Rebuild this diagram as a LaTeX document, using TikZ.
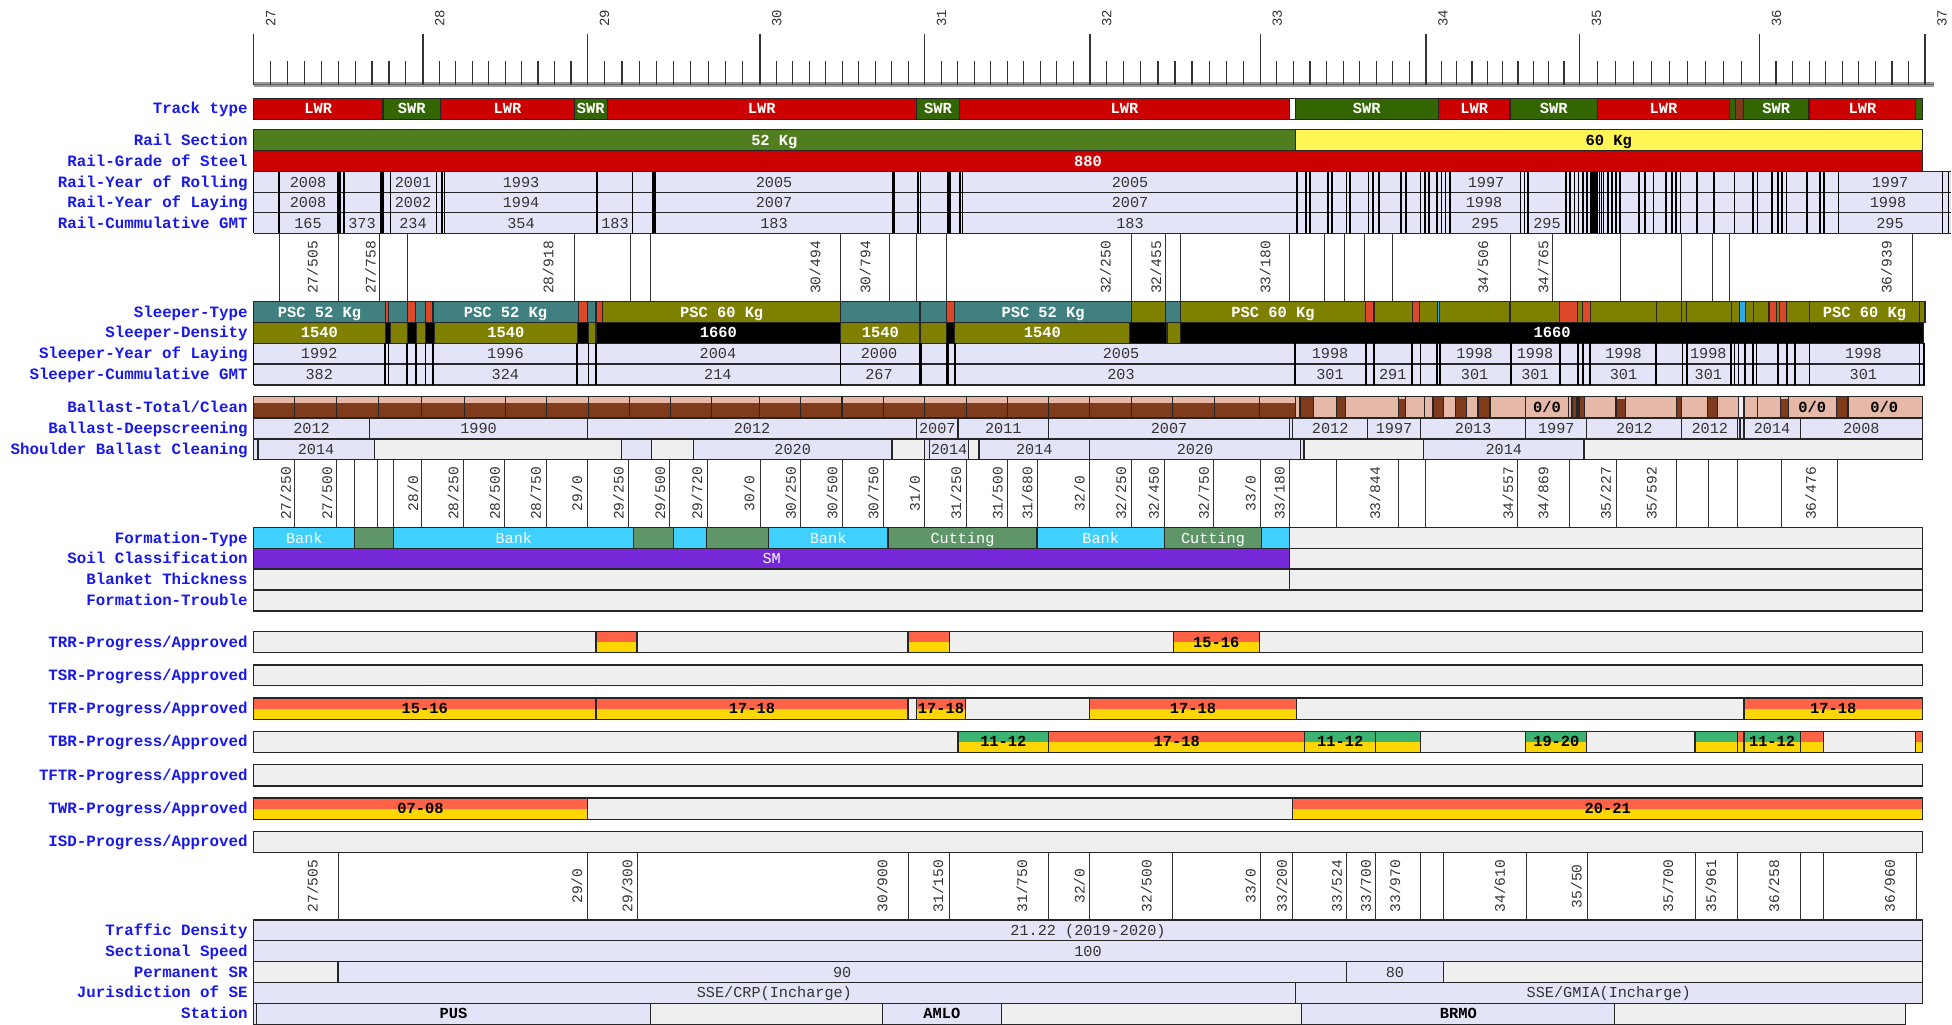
\documentclass[tikz,border=0pt]{standalone}
\usepackage{fontspec}
\setmainfont{Liberation Mono}
\definecolor{lblblue}{RGB}{25,25,235}
\definecolor{lwr}{RGB}{204,0,0}
\definecolor{swr}{RGB}{51,102,0}
\definecolor{rs52}{RGB}{80,125,30}
\definecolor{rs60}{RGB}{255,245,85}
\definecolor{lav}{RGB}{228,228,248}
\definecolor{gry}{RGB}{239,239,239}
\definecolor{slpteal}{RGB}{64,128,128}
\definecolor{slpolive}{RGB}{128,128,0}
\definecolor{slpred}{RGB}{220,72,40}
\definecolor{slpblue}{RGB}{40,170,235}
\definecolor{bpink}{RGB}{230,184,168}
\definecolor{bbrown}{RGB}{128,58,28}
\definecolor{fbank}{RGB}{64,208,255}
\definecolor{fcut}{RGB}{94,150,104}
\definecolor{soilsm}{RGB}{117,40,215}
\definecolor{ptop}{RGB}{255,99,71}
\definecolor{pgold}{RGB}{255,215,0}
\definecolor{pgreen}{RGB}{60,179,113}
\newcommand{\lblfont}{\fontsize{15.8}{16}\selectfont\bfseries}
\newcommand{\valfont}{\fontsize{15.2}{16}\selectfont}
\newcommand{\barfont}{\fontsize{15.4}{16}\selectfont\bfseries}
\newcommand{\chfont}{\fontsize{14.6}{15}\selectfont}
\newcommand{\kmfont}{\fontsize{14}{14}\selectfont}
\newcommand{\setrow}[2]{\def\rowtop{#1}\def\rowbot{#2}}
\newcommand{\cell}[5][valtxt]{%
  \filldraw[cellline,fill=#2] (#3,\rowtop) rectangle (#4,\rowbot);
  \node[#1] at ({(#3+#4)/2},{(\rowtop+\rowbot)/2}) {#5};}
\newcommand{\prog}[4][ptop]{%
  \fill[#1] (#2,\rowtop) rectangle (#3,{(\rowtop+\rowbot)/2});
  \fill[pgold] (#2,{(\rowtop+\rowbot)/2}) rectangle (#3,\rowbot);
  \draw[cellline] (#2,\rowtop) rectangle (#3,\rowbot);
  \node[progtxt] at ({(#2+#3)/2},{(\rowtop+\rowbot)/2}) {#4};}
\newcommand{\bal}[3]{%
  \fill[bpink] (#1,396.7) rectangle (#2,417.3);
  \fill[bbrown] (#1,{396.7+#3}) rectangle (#2,417.3);
  \draw[cellline] (#1,396.7) rectangle (#2,417.3);}

\begin{document}
\begin{tikzpicture}[x=1pt,y=-1pt,
  cellline/.style={draw=black!85,line width=1.1pt},
  railline/.style={draw=black,line width=1.7pt},
  zoneline/.style={draw=black!80,line width=0.9pt},
  majortick/.style={draw=black!80,line width=1.6pt},
  minortick/.style={draw=black!80,line width=1.2pt},
  rowlbl/.style={anchor=east,inner sep=0pt,text=lblblue,font=\lblfont,text height=10pt,text depth=0pt},
  valtxt/.style={inner sep=0pt,text=black!80,font=\valfont,text height=10pt,text depth=0pt},
  bartxt/.style={inner sep=0pt,text=white,font=\barfont,text height=10pt,text depth=0pt},
  wtxt/.style={inner sep=0pt,text=white,font=\valfont,text height=10pt,text depth=0pt},
  darktxt/.style={inner sep=0pt,text=black,font=\barfont,text height=10pt,text depth=0pt},
  progtxt/.style={inner sep=0pt,text=black,font=\barfont,text height=10pt,text depth=0pt},
  chlbl/.style={rotate=90,inner sep=0pt,text=black!80,font=\chfont},
  kmlbl/.style={rotate=90,anchor=west,inner sep=0pt,text=black!80,font=\kmfont}]
\useasboundingbox (0,0) rectangle (1952,1025);

\fill[black!40] (253.6,82) rectangle (1934,87);
\draw[black!60,line width=1pt] (253.6,84.5) -- (1934,84.5);
\foreach \a/\b [count=\k from 27] in {253.6/422.8,422.8/587.5,587.5/759.8,759.8/924.6,924.6/1089.7,1089.7/1260.3,1260.3/1426,1426/1579.4,1579.4/1759.5,1759.5/1925}{
  \draw[majortick] (\a,34) -- (\a,85);
  \node[kmlbl] at (\a+17,27) {\k};
  \foreach \i in {1,...,9} \draw[minortick] ({\a+\i*(\b-\a)/10},61) -- ({\a+\i*(\b-\a)/10},85);
}
\draw[majortick] (1925,34) -- (1925,85);
\node[kmlbl] at (1942,27) {37};

\node[rowlbl] (trk) at (247.8,108.8) {Track type};
\node[rowlbl] (rsec) at (247.8,140) {Rail Section};
\node[rowlbl] (rgrd) at (247.8,161.2) {Rail-Grade of Steel};
\node[rowlbl] (rrol) at (247.8,182) {Rail-Year of Rolling};
\node[rowlbl] (rlay) at (247.8,202.5) {Rail-Year of Laying};
\node[rowlbl] (rgmt) at (247.8,223) {Rail-Cummulative GMT};
\node[rowlbl] (styp) at (247.8,312) {Sleeper-Type};
\node[rowlbl] (sden) at (247.8,332.8) {Sleeper-Density};
\node[rowlbl] (slay) at (247.8,353.7) {Sleeper-Year of Laying};
\node[rowlbl] (sgmt) at (247.8,374.5) {Sleeper-Cummulative GMT};
\node[rowlbl] (btot) at (247.8,407) {Ballast-Total/Clean};
\node[rowlbl] (bdsc) at (247.8,428.3) {Ballast-Deepscreening};
\node[rowlbl] (bsho) at (247.8,449.2) {Shoulder Ballast Cleaning};
\node[rowlbl] (ftyp) at (247.8,538) {Formation-Type};
\node[rowlbl] (fsoil) at (247.8,558.7) {Soil Classification};
\node[rowlbl] (fblk) at (247.8,579.5) {Blanket Thickness};
\node[rowlbl] (ftrb) at (247.8,600.5) {Formation-Trouble};
\node[rowlbl] (trr) at (247.8,642) {TRR-Progress/Approved};
\node[rowlbl] (tsr) at (247.8,675.3) {TSR-Progress/Approved};
\node[rowlbl] (tfr) at (247.8,708.7) {TFR-Progress/Approved};
\node[rowlbl] (tbr) at (247.8,741.8) {TBR-Progress/Approved};
\node[rowlbl] (tftr) at (247.8,775.3) {TFTR-Progress/Approved};
\node[rowlbl] (twr) at (247.8,808.7) {TWR-Progress/Approved};
\node[rowlbl] (isd) at (247.8,841.8) {ISD-Progress/Approved};
\node[rowlbl] (tden) at (247.8,930.3) {Traffic Density};
\node[rowlbl] (sspd) at (247.8,951.2) {Sectional Speed};
\node[rowlbl] (psr) at (247.8,972) {Permanent SR};
\node[rowlbl] (jur) at (247.8,992.8) {Jurisdiction of SE};
\node[rowlbl] (stn) at (247.8,1013.8) {Station};

\setrow{98.3}{119.3}
\cell[bartxt]{lwr}{253.6}{383}{LWR}
\cell[bartxt]{swr}{383}{440.6}{SWR}
\cell[bartxt]{lwr}{440.6}{574.6}{LWR}
\cell[bartxt]{swr}{574.6}{607.1}{SWR}
\cell[bartxt]{lwr}{607.1}{916.5}{LWR}
\cell[bartxt]{swr}{916.5}{959.4}{SWR}
\cell[bartxt]{lwr}{959.4}{1289.7}{LWR}
\cell{white}{1289.7}{1295.1}{}
\cell[bartxt]{swr}{1295.1}{1438.5}{SWR}
\cell[bartxt]{lwr}{1438.5}{1510}{LWR}
\cell[bartxt]{swr}{1510}{1597.3}{SWR}
\cell[bartxt]{lwr}{1597.3}{1729.5}{LWR}
\cell{swr}{1729.5}{1735.8}{}
\cell{bbrown}{1735.8}{1743.6}{}
\cell[bartxt]{swr}{1743.6}{1809}{SWR}
\cell[bartxt]{lwr}{1809}{1915.8}{LWR}
\cell{swr}{1915.8}{1922.5}{}

\setrow{129.3}{150.7}
\cell[bartxt]{rs52}{253.6}{1295.1}{52 Kg}
\cell[darktxt]{rs60}{1295.1}{1922.5}{60 Kg}
\setrow{150.7}{171.7}
\cell[bartxt]{lwr}{253.6}{1922.5}{880}

\fill[lav] (253.6,171.7) rectangle (1951,233.3);
\foreach \y in {171.7,192.3,212.7,233.3} \draw[cellline] (253.6,\y) -- (1951,\y);
\foreach \x in {253.6,279,338,340.2,343.8,380.8,383,390.6,436.6,442,444.6,597.3,632.6,652.7,655,893.3,894.6,918.3,920.5,947.8,950,960.3,962.5,1297.3,1306.3,1309.8,1327.7,1332,1346.4,1349.9,1368.6,1372.8,1379,1401,1406,1420.6,1424.7,1428.9,1437.2,1441.4,1445.5,1449.7,1520.4,1524.5,1527.9,1566.1,1570.3,1574.4,1578.6,1582.7,1586.9,1591.1,1593.1,1595.2,1597.3,1599.4,1601.5,1603.5,1607.7,1611.9,1616,1620.2,1638.9,1645.1,1653.4,1665.9,1672.1,1676.3,1680.5,1697.1,1713.7,1734.5,1753.2,1757.4,1771.9,1778.2,1782.3,1786.5,1807.3,1819.8,1823.9,1838.5,1942.4,1948.6}
  \draw[railline] (\x,171.7) -- (\x,233.3);
\foreach \x/\t in {308/2008,413/2001,521/1993,774/2005,1130/2005,1486/1997,1890/1997} \node[valtxt] at (\x,182) {\t};
\foreach \x/\t in {308/2008,413/2002,521/1994,774/2007,1130/2007,1484/1998,1888/1998} \node[valtxt] at (\x,202.5) {\t};
\foreach \x/\t in {308/165,362/373,413/234,521/354,615/183,774/183,1130/183,1485/295,1547/295,1890/295} \node[valtxt] at (\x,223) {\t};

\foreach \x in {279,338,379.5,407.6,574.6,630.8,650.4,840.6,889.7,916.5,946,1131.3,1165.6,1180.4,1289.7,1324.1,1344.2,1364.4,1392.3,1510,1552.8,1620.2,1681.3,1712.9,1729.1,1912.5}
  \draw[zoneline] (\x,233.3) -- (\x,301.7);
\foreach \x/\k/\m in {312.5/27/505,370.5/27/758,548.2/28/918,815.2/30/494,865.2/30/794,1105.4/32/250,1155.8/32/455,1265.2/33/180,1483/34/506,1543.2/34/765,1886.3/36/939}
  \node[chlbl] at (\x,267.5) {\k/\m};

\setrow{301.7}{322.3}
\cell[bartxt]{slpteal}{253.6}{385.3}{PSC 52 Kg}
\cell{slpred}{385.3}{388.4}{}
\cell{slpteal}{388.4}{407.1}{}
\cell{slpred}{407.1}{415.2}{}
\cell{slpteal}{415.2}{425.4}{}
\cell{slpred}{425.4}{433}{}
\cell[bartxt]{slpteal}{433}{578.1}{PSC 52 Kg}
\cell{slpred}{578.1}{587.5}{}
\cell{slpteal}{587.5}{596}{}
\cell{slpred}{596}{602.7}{}
\cell[bartxt]{slpolive}{602.7}{840.6}{PSC 60 Kg}
\cell{slpteal}{840.6}{920}{}
\cell{slpteal}{920}{946.9}{}
\cell{slpred}{946.9}{954.9}{}
\cell[bartxt]{slpteal}{954.9}{1131.3}{PSC 52 Kg}
\cell{slpolive}{1131.3}{1165.6}{}
\cell{slpteal}{1165.6}{1180.4}{}
\cell[bartxt]{slpolive}{1180.4}{1365.7}{PSC 60 Kg}
\cell{slpred}{1365.7}{1374}{}
\cell{slpolive}{1374}{1412.3}{}
\cell{slpred}{1412.3}{1419.8}{}
\cell{slpolive}{1419.8}{1437.2}{}
\cell{slpblue}{1437.2}{1439.7}{}
\cell{slpolive}{1439.7}{1510}{}
\cell{slpolive}{1510}{1559.9}{}
\cell{slpred}{1559.9}{1577.8}{}
\cell{slpolive}{1577.8}{1582.7}{}
\cell{slpred}{1582.7}{1590.2}{}
\cell{slpolive}{1590.2}{1656.3}{}
\cell{slpolive}{1656.3}{1681.3}{}
\cell{slpolive}{1681.3}{1686.7}{}
\cell{slpolive}{1686.7}{1731.2}{}
\cell{slpolive}{1731.2}{1739.9}{}
\cell{slpblue}{1739.9}{1745.7}{}
\cell{slpolive}{1745.7}{1753.2}{}
\cell{slpolive}{1753.2}{1769}{}
\cell{slpred}{1769}{1776.1}{}
\cell{slpolive}{1776.1}{1779.4}{}
\cell{slpred}{1779.4}{1786.5}{}
\cell{slpolive}{1786.5}{1809.4}{}
\cell[bartxt]{slpolive}{1809.4}{1919.5}{PSC 60 Kg}
\cell{slpolive}{1919.5}{1925}{}

\setrow{322.3}{343.3}
\cell[bartxt]{slpolive}{253.6}{385.3}{1540}
\cell{black}{385.3}{390.6}{}
\cell{slpolive}{390.6}{407.1}{}
\cell{black}{407.1}{416.5}{}
\cell{slpolive}{416.5}{425.4}{}
\cell{black}{425.4}{434.4}{}
\cell[bartxt]{slpolive}{434.4}{577.2}{1540}
\cell{black}{577.2}{588.4}{}
\cell{slpolive}{588.4}{596}{}
\cell[bartxt]{black}{596}{840.6}{1660}
\cell[bartxt]{slpolive}{840.6}{920}{1540}
\cell{slpolive}{920}{946.9}{}
\cell{black}{946.9}{954.9}{}
\cell[bartxt]{slpolive}{954.9}{1129.9}{1540}
\cell{black}{1129.9}{1167}{}
\cell{slpolive}{1167}{1180.4}{}
\cell[bartxt]{black}{1180.4}{1923.7}{1660}

\fill[lav] (253.6,343.3) rectangle (1925,385);
\foreach \y in {343.3,364,385} \draw[cellline] (253.6,\y) -- (1925,\y);
\foreach \x in {253.6,385.3,388.4,407.1,416.1,425.4,433,577.2,588.4,596,840.6,920,921.4,946.9,948.2,954.9,1295.1,1365.7,1374,1412.3,1420.6,1437.2,1439.7,1511.2,1559.9,1577.8,1582.7,1590.2,1656.3,1682.5,1686.7,1731.2,1734.5,1738.6,1744.9,1753.2,1756.6,1778.2,1787.3,1794.8,1809.4,1919.5,1923.7}
  \draw[railline] (\x,343.3) -- (\x,385);
\foreach \x/\t in {319.2/1992,505.4/1996,717.9/2004,879/2000,1121/2005,1330/1998,1474.6/1998,1535/1998,1623.5/1998,1708.3/1998,1863.4/1998} \node[valtxt] at (\x,353.7) {\t};
\foreach \x/\t in {319.2/382,505.4/324,717.9/214,879/267,1121/203,1330/301,1392.7/291,1474.6/301,1535/301,1623.5/301,1708.3/301,1863.4/301} \node[valtxt] at (\x,374.5) {\t};

\foreach \b [remember=\b as \a (initially 253.6)] in {294.6,336.2,378.1,421.9,464.3,505.4,546.9,588.4,629.5,670.5,711.6,759.4,800.9,842,883.5,924.6,966.1,1007.1,1048.7,1089.7,1131.3,1172.3,1214.7,1259.4,1295.1}
  \bal{\a}{\b}{6};
\foreach \a/\b/\h in {1295.1/1300/20.6,1300/1313.3/0,1313.3/1336.2/20.6,1336.2/1345.7/0,1345.7/1398.5/20.6,1398.5/1405.2/2.5,1405.2/1424.7/20.6,1424.7/1433/20.6,1433/1443.5/0,1443.5/1455.1/20.6,1455.1/1466.3/0,1466.3/1478/20.6,1478/1490/0,1490/1525.8/20.6,1525.8/1568.2/20.6,1568.2/1572/20.6,1572/1577/0,1577/1579/20.6,1579/1584.8/0,1584.8/1616/20.6,1616/1625.6/2.5,1625.6/1676.3/20.6,1676.3/1681.7/0,1681.7/1707.5/20.6,1707.5/1717.9/0,1717.9/1738.7/20.6,1744/1757.4/20.6,1757.4/1780.2/20.6,1780.2/1788.6/2.5,1788.6/1836.4/20.6,1836.4/1848/0,1848/1922.4/20.6}
  \bal{\a}{\b}{\h};
\filldraw[cellline,fill=gry] (1738.7,396.7) rectangle (1744,417.3);
\foreach \x in {1547,1812.3,1884.2} \node[darktxt] at (\x,407) {0/0};

\setrow{418.3}{438.3}
\cell{lav}{253.6}{369.6}{2012}
\cell{lav}{369.6}{587.5}{1990}
\cell{lav}{587.5}{916.5}{2012}
\cell{lav}{916.5}{958}{2007}
\cell{lav}{958}{1048.7}{2011}
\cell{lav}{1048.7}{1289.3}{2007}
\cell{lav}{1289.3}{1292.9}{}
\cell{lav}{1292.9}{1367.4}{2012}
\cell{lav}{1367.4}{1420.6}{1997}
\cell{lav}{1420.6}{1525.8}{2013}
\cell{lav}{1525.8}{1586.9}{1997}
\cell{lav}{1586.9}{1681.7}{2012}
\cell{lav}{1681.7}{1737.8}{2012}
\cell{lav}{1737.8}{1740}{}
\cell{lav}{1740}{1744}{}
\cell{lav}{1744}{1800.2}{2014}
\cell{lav}{1800.2}{1922.4}{2008}

\setrow{439}{459.3}
\cell{lav}{253.6}{258}{}
\cell{lav}{258}{374.1}{2014}
\cell{gry}{374.1}{621.9}{}
\cell{lav}{621.9}{651.8}{}
\cell{gry}{651.8}{693.3}{}
\cell{lav}{693.3}{892}{2020}
\cell{gry}{892}{924.6}{}
\cell{lav}{924.6}{929.9}{}
\cell{lav}{929.9}{968.3}{2014}
\cell{gry}{968.3}{979}{}
\cell{lav}{979}{1089.7}{2014}
\cell{lav}{1089.7}{1300.4}{2020}
\cell{lav}{1300.4}{1304}{}
\cell{gry}{1304}{1423.5}{}
\cell{lav}{1423.5}{1584}{2014}
\cell{gry}{1584}{1922.4}{}

\foreach \x in {294.6,336.2,354,377.2,393.8,421.9,463.4,504.5,546,587.1,628.6,669.6,707.1,760.3,800.9,842.4,883.5,924.6,966.1,1007.1,1037,1089.7,1131.3,1164.7,1213.8,1260.3,1289.7,1336.2,1398.5,1425.6,1517.5,1569.4,1616,1676.3,1708.3,1737.4,1781.1,1837.2}
  \draw[zoneline] (\x,459.3) -- (\x,527.7);
\foreach \x/\k/\m in {285.7/27/250,326.8/27/500,413/28/0,453.1/28/250,494.6/28/500,535.7/28/750,576.8/29/0,618.3/29/250,659.8/29/500,696.9/29/720,749.1/30/0,790.6/30/250,832.1/30/500,873.2/30/750,914.7/31/0,955.8/31/250,997.3/31/500,1027.2/31/680,1079.5/32/0,1121/32/250,1153.6/32/450,1203.6/32/750,1250.4/33/0,1279.5/33/180,1374.8/33/844,1507.9/34/557,1543.2/34/869,1605.6/35/227,1651.3/35/592,1810.6/36/476}
  \node[chlbl] at (\x,493.5) {\k/\m};

\setrow{527.7}{548.3}
\cell[wtxt]{fbank}{253.6}{354.9}{Bank}
\cell{fcut}{354.9}{393.8}{}
\cell[wtxt]{fbank}{393.8}{633.9}{Bank}
\cell{fcut}{633.9}{673.2}{}
\cell{fbank}{673.2}{706.7}{}
\cell{fcut}{706.7}{768.3}{}
\cell[wtxt]{fbank}{768.3}{888}{Bank}
\cell[wtxt]{fcut}{888}{1037}{Cutting}
\cell[wtxt]{fbank}{1037}{1164.3}{Bank}
\cell[wtxt]{fcut}{1164.3}{1261.6}{Cutting}
\cell{fbank}{1261.6}{1289.7}{}
\cell{gry}{1289.7}{1922.4}{}
\setrow{548.3}{569}
\cell[wtxt]{soilsm}{253.6}{1289.7}{SM}
\cell{gry}{1289.7}{1922.4}{}
\setrow{569}{590}
\cell{gry}{253.6}{1289.7}{}
\cell{gry}{1289.7}{1922.4}{}
\setrow{590}{611}
\cell{gry}{253.6}{1922.4}{}

\setrow{631.7}{652.3}
\cell{gry}{253.6}{1922.4}{}
\prog{596}{637}{}
\prog{908}{949.1}{}
\prog{1173.2}{1259.4}{15-16}
\setrow{665}{685.7}
\cell{gry}{253.6}{1922.4}{}
\setrow{698}{719.3}
\prog{253.6}{596}{15-16}
\prog{596}{908}{17-18}
\cell{gry}{908}{916.5}{}
\prog{916.5}{965.6}{17-18}
\cell{gry}{965.6}{1089.7}{}
\prog{1089.7}{1296.4}{17-18}
\cell{gry}{1296.4}{1744}{}
\prog{1744}{1922.4}{17-18}
\setrow{731.3}{752.3}
\cell{gry}{253.6}{958}{}
\prog[pgreen]{958}{1048.7}{11-12}
\prog{1048.7}{1304.9}{17-18}
\prog[pgreen]{1304.9}{1375.7}{11-12}
\prog[pgreen]{1375.7}{1420.6}{}
\cell{gry}{1420.6}{1525.8}{}
\prog[pgreen]{1525.8}{1586.9}{19-20}
\cell{gry}{1586.9}{1695}{}
\prog[pgreen]{1695}{1737.8}{}
\prog{1737.8}{1744}{}
\prog[pgreen]{1744}{1800.2}{11-12}
\prog{1800.2}{1823.1}{}
\cell{gry}{1823.1}{1915.4}{}
\prog{1915.4}{1922.4}{}
\setrow{764.7}{786}
\cell{gry}{253.6}{1922.4}{}
\setrow{798}{819.3}
\prog{253.6}{587.5}{07-08}
\cell{gry}{587.5}{1292.9}{}
\prog{1292.9}{1922.4}{20-21}
\setrow{831.3}{852.3}
\cell{gry}{253.6}{1922.4}{}

\foreach \x in {338,587.5,637,908,949.1,1048.7,1089.7,1172.3,1260.3,1292.9,1346.4,1375.7,1420.6,1443.5,1526.6,1587.7,1695,1737.8,1800.2,1823.9,1916.2}
  \draw[zoneline] (\x,852.3) -- (\x,920);
\foreach \x/\k/\m in {312.5/27/505,576.8/29/0,627.2/29/300,882.1/30/900,938/31/150,1021.9/31/750,1079.5/32/0,1146.4/32/500,1250.4/33/0,1281.7/33/200,1336.6/33/524,1365.7/33/700,1394.8/33/970,1499.6/34/610,1576.5/35/50,1668/35/700,1710.8/35/961,1774/36/258,1889.6/36/960}
  \node[chlbl] at (\x,886.2) {\k/\m};

\setrow{920}{940.7}
\cell{lav}{253.6}{1922.4}{21.22 (2019-2020)}
\setrow{940.7}{961.7}
\cell{lav}{253.6}{1922.4}{100}
\setrow{961.7}{982.3}
\cell{gry}{253.6}{338}{}
\cell{lav}{338}{1346.4}{90}
\cell{lav}{1346.4}{1443.5}{80}
\cell{gry}{1443.5}{1922.4}{}
\setrow{982.3}{1003.3}
\cell{lav}{253.6}{1295.1}{SSE/CRP(Incharge)}
\cell{lav}{1295.1}{1922.4}{SSE/GMIA(Incharge)}
\setrow{1003.3}{1024.3}
\cell{lav}{253.6}{256.7}{}
\cell[darktxt]{lav}{256.7}{650.4}{PUS}
\cell{gry}{650.4}{882.1}{}
\cell[darktxt]{lav}{882.1}{1001.8}{AMLO}
\cell{gry}{1001.8}{1301.8}{}
\cell[darktxt]{lav}{1301.8}{1614.8}{BRMO}
\cell{gry}{1614.8}{1905.8}{}
\end{tikzpicture}
\end{document}
